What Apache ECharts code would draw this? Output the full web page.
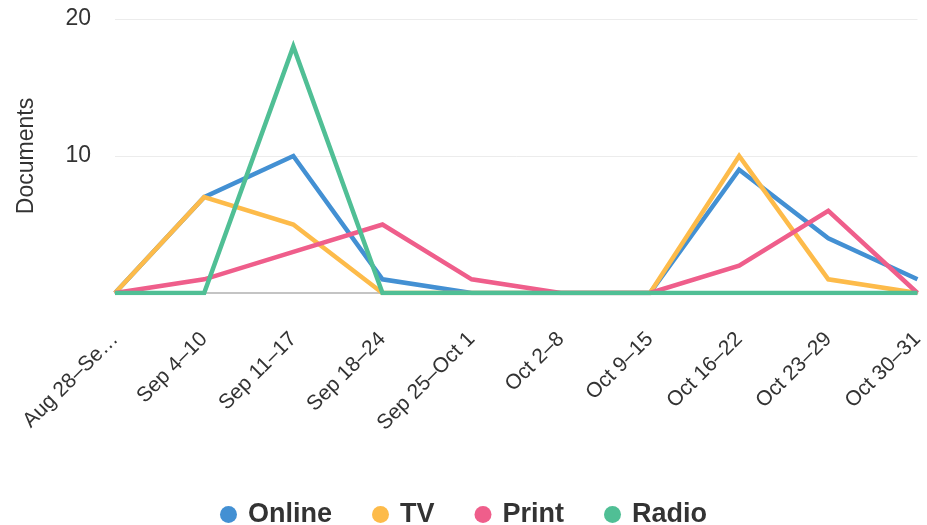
<!DOCTYPE html>
<html>
<head>
<meta charset="utf-8">
<script src="https://cdn.jsdelivr.net/npm/echarts@6/dist/echarts.min.js"></script>
<style>
  html, body { margin: 0; padding: 0; background: #ffffff; }
  #chart { width: 927px; height: 525px; }
</style>
</head>
<body>
<div id="chart"></div>
<script>
// Weekly document counts per media type
const weeks = ['Aug 28–Sep 3', 'Sep 4–10', 'Sep 11–17', 'Sep 18–24', 'Sep 25–Oct 1',
               'Oct 2–8', 'Oct 9–15', 'Oct 16–22', 'Oct 23–29', 'Oct 30–31'];
const weekLabels = ['Aug 28–Se…', 'Sep 4–10', 'Sep 11–17', 'Sep 18–24', 'Sep 25–Oct 1',
                    'Oct 2–8', 'Oct 9–15', 'Oct 16–22', 'Oct 23–29', 'Oct 30–31'];
const online = [0, 7, 10, 1, 0, 0, 0, 9, 4, 1];
const tv     = [0, 7, 5, 0, 0, 0, 0, 10, 1, 0];
const print  = [0, 1, 3, 5, 1, 0, 0, 2, 6, 0];
const radio  = [0, 0, 18, 0, 0, 0, 0, 0, 0, 0];
const yTicks = [10, 20];

const FONT = '"Liberation Sans", Arial, Helvetica, sans-serif';
const colors = ['#4390d3', '#fdbb4a', '#ef5e8b', '#50bf95'];

function lineSeries(name, data, color) {
  return {
    name: name,
    type: 'line',
    data: data,
    symbol: 'none',
    lineStyle: { width: 4.5, color: color, join: 'miter' },
    itemStyle: { color: color },
    emphasis: { disabled: true }
  };
}

const chart = echarts.init(document.getElementById('chart'), null, { renderer: 'canvas' });
chart.setOption({
  animation: false,
  backgroundColor: '#ffffff',
  grid: { left: 115, right: 7, top: 19, bottom: 232, containLabel: false },
  legend: {
    top: 496,
    left: 'center',
    icon: 'circle',
    itemWidth: 17,
    itemHeight: 17,
    itemGap: 40,
    textStyle: {
      fontFamily: FONT, fontSize: 27, fontWeight: 'bold', color: '#333333',
      padding: [0, 0, 0, 6]
    },
    data: ['Online', 'TV', 'Print', 'Radio']
  },
  xAxis: {
    type: 'category',
    data: weeks,
    boundaryGap: false,
    axisLine: { show: true, lineStyle: { color: '#c4c4c4', width: 2 } },
    axisTick: { show: false },
    axisLabel: {
      rotate: 45,
      margin: 43,
      interval: 0,
      fontFamily: FONT,
      fontSize: 21,
      color: '#333333',
      formatter: function (value, idx) { return weekLabels[idx]; }
    }
  },
  yAxis: {
    type: 'value',
    min: 0,
    max: 20,
    interval: 10,
    name: 'Documents',
    nameLocation: 'middle',
    nameGap: 77,
    nameTextStyle: { fontFamily: FONT, fontSize: 23, color: '#333333' },
    axisLine: { show: false },
    axisTick: { show: false },
    splitLine: { lineStyle: { color: '#ececec', width: 1 } },
    axisLabel: {
      fontFamily: FONT,
      fontSize: 23,
      color: '#333333',
      margin: 24,
      padding: [3, 0, 0, 0],
      formatter: function (v) { return yTicks.indexOf(v) >= 0 ? String(v) : ''; }
    }
  },
  series: [
    lineSeries('Online', online, colors[0]),
    lineSeries('TV', tv, colors[1]),
    lineSeries('Print', print, colors[2]),
    lineSeries('Radio', radio, colors[3])
  ]
});
</script>
</body>
</html>
